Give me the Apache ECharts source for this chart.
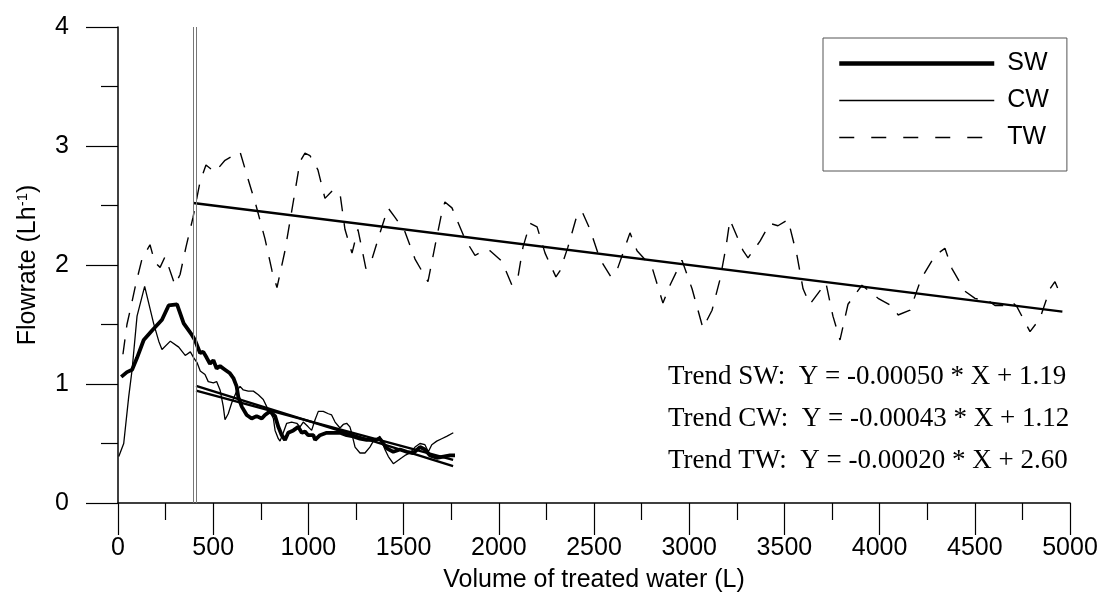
<!DOCTYPE html>
<html>
<head>
<meta charset="utf-8">
<script src="https://cdn.jsdelivr.net/npm/echarts@6/dist/echarts.min.js"></script>
<style>
  html, body { margin: 0; padding: 0; background: #fff; }
  #main { width: 1106px; height: 611px; }
</style>
</head>
<body>
<div id="main"></div>
<script>
// flowrate readings [volume L, flowrate L/h]
const swData = [
  [17,1.06],[47,1.10],[74,1.12],[100,1.22],[135,1.37],[179,1.45],[231,1.54],[266,1.66],
  [310,1.67],[345,1.51],[389,1.41],[404,1.37],[431,1.26],[448,1.27],[466,1.22],[483,1.17],
  [501,1.20],[518,1.13],[536,1.15],[562,1.12],[588,1.09],[606,1.05],[623,0.98],[632,0.89],
  [650,0.81],[676,0.74],[702,0.71],[728,0.73],[755,0.71],[772,0.74],[798,0.77],[825,0.73],
  [842,0.64],[860,0.57],[877,0.53],[894,0.59],[921,0.61],[947,0.64],[965,0.59],[982,0.60],
  [999,0.57],[1026,0.57],[1035,0.53],[1061,0.57],[1096,0.59],[1131,0.59],[1166,0.59],
  [1201,0.57],[1236,0.56],[1271,0.54],[1306,0.53],[1350,0.53],[1376,0.54],[1411,0.46],
  [1446,0.43],[1481,0.45],[1516,0.43],[1551,0.42],[1586,0.47],[1612,0.45],[1639,0.40],
  [1674,0.38],[1709,0.39],[1744,0.40],[1770,0.40]
];
const cwData = [
  [4,0.39],[30,0.50],[56,0.89],[74,1.12],[100,1.57],[140,1.82],[187,1.51],[214,1.36],
  [231,1.29],[275,1.36],[319,1.31],[353,1.24],[380,1.27],[398,1.22],[415,1.18],[432,1.11],
  [457,1.08],[474,1.02],[501,1.01],[518,1.02],[536,0.95],[553,0.81],[562,0.70],[579,0.75],
  [597,0.84],[623,0.94],[641,0.98],[658,0.95],[684,0.94],[711,0.94],[737,0.91],[763,0.87],
  [781,0.81],[798,0.77],[816,0.71],[825,0.61],[842,0.54],[851,0.52],[868,0.59],[886,0.67],
  [912,0.68],[939,0.67],[956,0.64],[973,0.68],[999,0.64],[1017,0.61],[1035,0.70],[1052,0.77],
  [1078,0.77],[1105,0.75],[1122,0.74],[1140,0.68],[1166,0.63],[1183,0.66],[1201,0.67],
  [1218,0.64],[1227,0.59],[1245,0.47],[1271,0.42],[1297,0.42],[1323,0.47],[1341,0.52],
  [1359,0.54],[1376,0.56],[1385,0.52],[1402,0.45],[1420,0.39],[1446,0.33],[1472,0.36],
  [1490,0.38],[1507,0.40],[1534,0.42],[1560,0.47],[1586,0.50],[1612,0.49],[1630,0.43],
  [1648,0.49],[1674,0.52],[1700,0.54],[1726,0.56],[1761,0.59]
];
const twData = [
  [26,1.25],[47,1.50],[68,1.65],[95,1.85],[126,2.05],[168,2.17],[194,2.02],[221,1.98],
  [247,2.07],[263,2.00],[299,1.83],[326,1.92],[357,2.15],[394,2.40],[431,2.70],[462,2.84],
  [509,2.78],[562,2.88],[641,2.95],[678,2.75],[725,2.50],[772,2.22],[809,1.95],[835,1.81],
  [877,2.12],[930,2.62],[956,2.87],[982,2.94],[1008,2.92],[1050,2.80],[1087,2.56],[1129,2.63],
  [1166,2.60],[1192,2.30],[1229,2.10],[1260,2.30],[1302,1.97],[1334,2.05],[1376,2.27],
  [1418,2.48],[1455,2.40],[1507,2.28],[1560,2.05],[1628,1.86],[1670,2.20],[1702,2.45],
  [1717,2.53],[1754,2.48],[1822,2.22],[1875,2.08],[1927,2.13],[1954,2.12],[2017,2.03],
  [2069,1.83],[2101,1.90],[2127,2.15],[2164,2.35],[2201,2.32],[2243,2.10],[2300,1.90],
  [2321,1.95],[2363,2.15],[2411,2.42],[2437,2.45],[2479,2.30],[2531,2.05],[2589,1.90],
  [2626,1.98],[2689,2.27],[2726,2.12],[2805,1.98],[2862,1.68],[2899,1.83],[2962,2.04],
  [3015,1.80],[3072,1.47],[3120,1.62],[3162,1.88],[3193,2.15],[3214,2.38],[3283,2.12],
  [3309,2.06],[3372,2.20],[3424,2.35],[3466,2.33],[3519,2.38],[3566,2.08],[3598,1.80],
  [3634,1.67],[3718,1.85],[3755,1.57],[3792,1.37],[3834,1.67],[3907,1.83],[3992,1.72],
  [4070,1.65],[4097,1.58],[4160,1.62],[4217,1.88],[4291,2.08],[4343,2.14],[4380,1.97],
  [4448,1.78],[4501,1.72],[4580,1.69],[4606,1.66],[4659,1.66],[4695,1.69],[4721,1.65],
  [4790,1.44],[4842,1.55],[4895,1.80],[4921,1.86],[4958,1.72]
];

// linear trends (end points of the fitted lines)
const swTrend = [[410, 0.985], [1760, 0.31]];
const cwTrend = [[410, 0.944], [1760, 0.363]];
const twTrend = [[395, 2.521], [4960, 1.608]];

const dividerX = [396, 412];

const trendTexts = [
  'Trend SW:  Y = -0.00050 * X + 1.19',
  'Trend CW:  Y = -0.00043 * X + 1.12',
  'Trend TW:  Y = -0.00020 * X + 2.60'
];

const sans = 'Liberation Sans, Arial, sans-serif';
const serif = 'Liberation Serif, Times New Roman, serif';

var chart = echarts.init(document.getElementById('main'));

const trendLine = (name, data) => ({
  name: name,
  type: 'line',
  data: data,
  symbol: 'none',
  silent: true,
  z: 3,
  lineStyle: { color: '#000', width: 2.4 }
});

chart.setOption({
  animation: false,
  grid: { left: 118, right: 36, top: 27, bottom: 108 },
  legend: {
    data: [
      { name: 'SW', lineStyle: { width: 4.5 } },
      { name: 'CW', lineStyle: { width: 1.5 } },
      { name: 'TW', lineStyle: { width: 1.5, type: [15, 17] } }
    ],
    orient: 'vertical',
    left: 823,
    top: 38,
    padding: [12, 18, 20, 14],
    itemWidth: 155,
    itemHeight: 14,
    itemGap: 10,
    borderColor: '#555',
    borderWidth: 1,
    itemStyle: { opacity: 0 },
    textStyle: { fontFamily: sans, fontSize: 25, color: '#000', lineHeight: 27, padding: [0, 0, 0, 8] }
  },
  xAxis: {
    type: 'value',
    min: 0,
    max: 5000,
    interval: 500,
    name: 'Volume of treated water (L)',
    nameLocation: 'middle',
    nameGap: 65,
    nameTextStyle: { fontFamily: sans, fontSize: 25, color: '#000' },
    axisLine: { lineStyle: { color: '#000', width: 1.5 } },
    axisTick: { length: 32, lineStyle: { color: '#000', width: 1.2 } },
    minorTick: { show: true, splitNumber: 2, length: 17, lineStyle: { color: '#000', width: 1.2 } },
    splitLine: { show: false },
    axisLabel: { fontFamily: sans, fontSize: 25, color: '#000', margin: 33, formatter: v => String(v) }
  },
  yAxis: {
    type: 'value',
    min: 0,
    max: 4,
    interval: 1,
    name: 'Flowrate (Lh{sup|-1})',
    nameLocation: 'middle',
    nameGap: 77,
    nameTextStyle: {
      fontFamily: sans, fontSize: 25, color: '#000',
      rich: { sup: { fontFamily: sans, fontSize: 15, color: '#000', verticalAlign: 'top', padding: [0, 0, 11, 0] } }
    },
    axisLine: { lineStyle: { color: '#000', width: 1.5 } },
    axisTick: { length: 32, lineStyle: { color: '#000', width: 1.2 } },
    minorTick: { show: true, splitNumber: 2, length: 17, lineStyle: { color: '#000', width: 1.2 } },
    splitLine: { show: false },
    axisLabel: { fontFamily: sans, fontSize: 25, color: '#000', margin: 49 }
  },
  series: [
    {
      name: 'SW',
      type: 'line',
      data: swData,
      symbol: 'none',
      z: 4,
      lineStyle: { color: '#000', width: 3.8 },
      itemStyle: { color: '#000' },
      markLine: {
        silent: true,
        symbol: 'none',
        label: { show: false },
        lineStyle: { color: '#777', width: 1, type: 'solid' },
        data: dividerX.map(v => [{ coord: [v, 0] }, { coord: [v, 4] }])
      }
    },
    {
      name: 'CW',
      type: 'line',
      data: cwData,
      symbol: 'none',
      z: 2,
      lineStyle: { color: '#000', width: 1.3 },
      itemStyle: { color: '#000' }
    },
    {
      name: 'TW',
      type: 'line',
      data: twData,
      symbol: 'none',
      z: 2,
      lineStyle: { color: '#000', width: 1.4, type: [15, 12] },
      itemStyle: { color: '#000' }
    },
    trendLine('SW trend', swTrend),
    trendLine('CW trend', cwTrend),
    trendLine('TW trend', twTrend)
  ],
  graphic: trendTexts.map((t, i) => ({
    type: 'text',
    left: 668,
    top: 363 + i * 42,
    style: { text: t, fontFamily: serif, fontSize: 27, fill: '#000' }
  }))
});
</script>
</body>
</html>
